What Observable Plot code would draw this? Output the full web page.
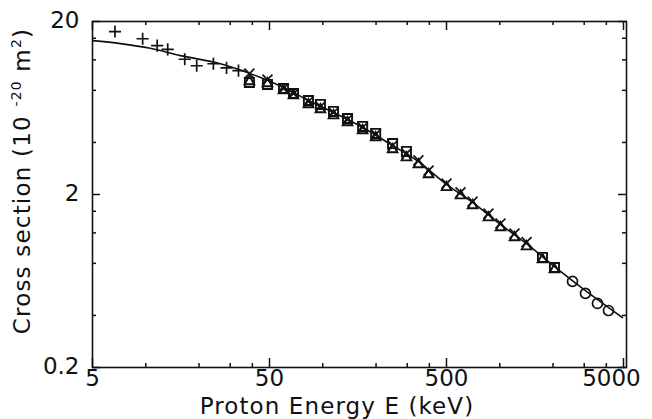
<!DOCTYPE html>
<html><head><meta charset="utf-8">
<script src="https://cdn.jsdelivr.net/npm/d3@7"></script>
<script src="https://cdn.jsdelivr.net/npm/@observablehq/plot@0.6"></script>
<style>
html,body{margin:0;padding:0;background:#fff;}
svg text{font-family:"DejaVu Sans",sans-serif;}
</style></head><body><div id="chart"></div>
<script>
// Axis ticks
const xMajor = [5, 50, 500];
const xLast = [5000];
const xMinor = [10, 20, 30, 40, 100, 200, 300, 400, 1000, 2000, 3000, 4000];
const yMajor = [0.2, 2, 20];
const yMinor = [0.4, 0.8, 1.2, 1.6, 4, 8, 12, 16];

// "+" series (low energy)
const plusE = [6.7, 9.6, 11.6, 13.3, 16.6, 19.4, 24.1, 28.6, 33.4];
const plusS = [17.5, 15.9, 14.5, 13.8, 12.1, 11.1, 11.4, 10.8, 10.4];

// "x" series
const timesE = [38.5, 48.7, 60, 68.3, 83, 97, 115, 138, 168, 199, 248, 297, 347, 396, 500, 600, 702, 863, 1010, 1211, 1416];
const timesS = [10.0, 9.24, 8.20, 7.67, 6.90, 6.45, 5.96, 5.43, 4.88, 4.45, 3.84, 3.45, 3.15, 2.75, 2.31, 2.06, 1.82, 1.55, 1.36, 1.19, 1.06];

// triangle series
const triE = [38.5, 48.7, 60, 68.3, 83, 97, 115, 138, 168, 199, 248, 297, 347, 396, 500, 600, 702, 863, 1010, 1211, 1416, 1743, 2037];
const triS = [9.0, 8.76, 7.98, 7.47, 6.63, 6.20, 5.72, 5.22, 4.69, 4.27, 3.64, 3.27, 2.98, 2.61, 2.20, 1.97, 1.73, 1.47, 1.29, 1.13, 1.00, 0.842, 0.737];

// square series
const sqE = [38.5, 48.7, 60, 68.3, 83, 97, 115, 138, 168, 199, 248, 297, 1743, 2037];
const sqS = [8.88, 8.65, 8.20, 7.67, 6.99, 6.63, 6.04, 5.50, 4.95, 4.51, 3.94, 3.55, 0.865, 0.757];

// circle series (high energy)
const circE = [2576, 3049, 3564, 4113];
const circS = [0.629, 0.536, 0.469, 0.427];

// theory curve
const curveE = [5, 7.2, 10.6, 15.7, 26.4, 44.5, 60, 83, 115, 168, 248, 347, 500, 702, 1010, 1416, 2037, 3049, 4932];
const curveS = [15.5, 14.9, 14.0, 12.7, 11.4, 9.49, 8.31, 6.99, 5.96, 4.88, 3.84, 3.10, 2.29, 1.80, 1.34, 1.04, 0.767, 0.557, 0.389];

const xTitle = "Proton Energy E (keV)";
const yTitleParts = ["Cross section (10 ", "-20", " m", "2", ")"];

const W = 652, H = 419, mL = 92, mR = 26, mT = 21, mB = 52;
const pw = W - mL - mR, ph = H - mT - mB;
const ink = "#111";
const pts = (a, b) => a.map((v, i) => ({E: v, s: b[i]}));

const chart = Plot.plot({
  width: W, height: H,
  marginLeft: mL, marginRight: mR, marginTop: mT, marginBottom: mB,
  x: {type: "log", domain: [5, 5200], axis: null},
  y: {type: "log", domain: [0.2, 20], axis: null},
  style: {fontFamily: "DejaVu Sans, sans-serif", background: "#fff"},
  marks: [
    Plot.frame({stroke: ink, strokeWidth: 1.6}),
    // inward ticks: bottom / top
    Plot.tickX(xMajor.concat(xLast), {x: d => d, insetTop: ph - 9, stroke: ink, strokeWidth: 1.5}),
    Plot.tickX(xMinor, {x: d => d, insetTop: ph - 4, stroke: ink, strokeWidth: 1.5}),
    Plot.tickX(xMajor.concat(xLast), {x: d => d, insetBottom: ph - 9, stroke: ink, strokeWidth: 1.5}),
    Plot.tickX(xMinor, {x: d => d, insetBottom: ph - 4, stroke: ink, strokeWidth: 1.5}),
    // inward ticks: left / right
    Plot.tickY(yMajor, {y: d => d, insetRight: pw - 8, stroke: ink, strokeWidth: 1.5}),
    Plot.tickY(yMinor, {y: d => d, insetRight: pw - 4, stroke: ink, strokeWidth: 1.5}),
    Plot.tickY(yMajor, {y: d => d, insetLeft: pw - 8, stroke: ink, strokeWidth: 1.5}),
    Plot.tickY(yMinor, {y: d => d, insetLeft: pw - 4, stroke: ink, strokeWidth: 1.5}),
    // tick labels
    Plot.text(xMajor, {x: d => d, text: d => String(d), frameAnchor: "bottom", lineAnchor: "top", dy: 2, fontSize: 23, fill: ink}),
    Plot.text(xLast, {x: d => d, text: d => String(d), frameAnchor: "bottom", lineAnchor: "top", dy: 2, dx: -12, fontSize: 23, fill: ink}),
    Plot.text(yMajor, {y: d => d, text: d => String(d), frameAnchor: "left", textAnchor: "end", dx: -13, dy: -1, fontSize: 23, fill: ink}),
    // theory curve
    Plot.line(pts(curveE, curveS), {x: "E", y: "s", curve: "catmull-rom", stroke: ink, strokeWidth: 1.6, clip: true}),
    // data series
    Plot.dot(pts(plusE, plusS), {x: "E", y: "s", symbol: "plus", r: 4, stroke: ink, strokeWidth: 1.7}),
    Plot.dot(pts(sqE, sqS), {x: "E", y: "s", symbol: "square2", r: 5.8, stroke: ink, fill: "none", strokeWidth: 1.9}),
    Plot.dot(pts(triE, triS), {x: "E", y: "s", symbol: "triangle2", r: 4.6, stroke: ink, fill: "none", strokeWidth: 1.9}),
    Plot.dot(pts(timesE, timesS), {x: "E", y: "s", symbol: "times", r: 4.6, stroke: ink, strokeWidth: 1.7}),
    Plot.dot(pts(circE, circS), {x: "E", y: "s", symbol: "circle", r: 5, stroke: ink, fill: "none", strokeWidth: 1.7})
  ]
});

// axis titles (real text)
const svg = d3.select(chart);
svg.append("text")
  .attr("x", mL + pw / 2 - 22).attr("y", H - 5)
  .attr("text-anchor", "middle")
  .attr("font-size", 23).attr("letter-spacing", 1.1)
  .attr("fill", ink)
  .text(xTitle);
const yt = svg.append("text")
  .attr("transform", `translate(30,${mT + ph / 2 - 13}) rotate(-90)`)
  .attr("text-anchor", "middle")
  .attr("font-size", 23).attr("letter-spacing", 1.2)
  .attr("fill", ink);
yt.append("tspan").text(yTitleParts[0]);
yt.append("tspan").attr("font-size", 14).attr("dy", -9).text(yTitleParts[1]);
yt.append("tspan").attr("dy", 9).text(yTitleParts[2]);
yt.append("tspan").attr("font-size", 14).attr("dy", -9).text(yTitleParts[3]);
yt.append("tspan").attr("dy", 9).text(yTitleParts[4]);

document.getElementById("chart").appendChild(chart);
</script></body></html>
